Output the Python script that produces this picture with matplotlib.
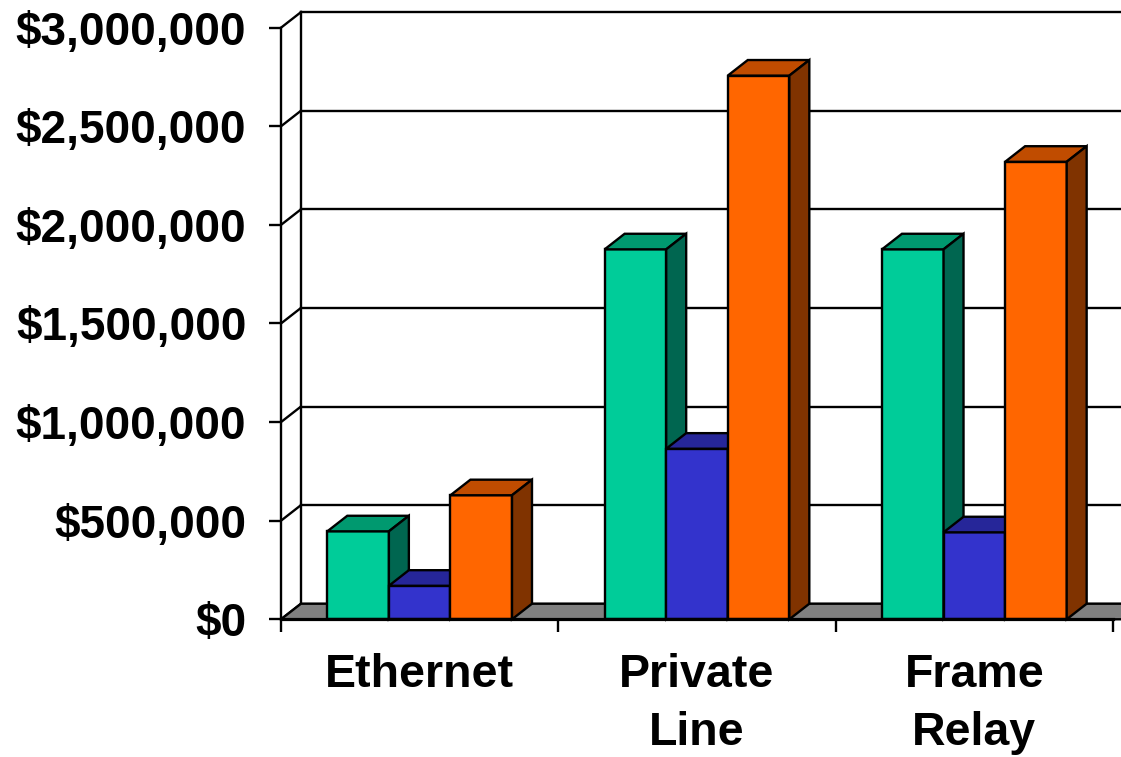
import matplotlib.pyplot as plt
from matplotlib.patches import Polygon

plt.rcParams['font.family'] = ['Liberation Sans', 'DejaVu Sans']

# data
categories = ["Ethernet", "Private\nLine", "Frame\nRelay"]
series_a = [446000, 1876000, 1876000]   # green
series_b = [170000, 865000, 441000]     # blue
series_c = [629000, 2757000, 2320000]   # orange
y_ticks = [0, 500000, 1000000, 1500000, 2000000, 2500000, 3000000]

# colours: front, top, side
colors = [
    ("#00CC99", "#00996F", "#006650"),
    ("#3333CC", "#262699", "#1A1A66"),
    ("#FF6600", "#C04C00", "#803300"),
]

DX = 0.072      # depth offset in category units
DY = 79000      # depth offset in value units
BAR_W = 0.222
GROUP_OFF = 0.167
LW = 1.7

fig = plt.figure(figsize=(11.21, 7.57), dpi=100)
ax = fig.add_axes([0.25067, 0.18191, 0.74220, 0.78151])
ax.set_xlim(0, 3)
ax.set_ylim(0, 3000000)
for s in ax.spines.values():
    s.set_visible(False)

# back wall and side wall grid
for y in y_ticks:
    ax.plot([DX, 3.5], [y + DY, y + DY], color="black", lw=LW, clip_on=False, zorder=1)
    ax.plot([0, DX], [y, y + DY], color="black", lw=LW, clip_on=False, zorder=1)
ax.plot([DX, DX], [DY, 3000000 + DY], color="black", lw=LW, clip_on=False, zorder=1)
ax.plot([0, 0], [0, 3000000], color="black", lw=LW, clip_on=False, zorder=4)

# floor
ax.add_patch(Polygon([(0, 0), (3.5, 0), (3.5 + DX, DY), (DX, DY)], closed=True,
                     facecolor="#808080", edgecolor="black", lw=LW,
                     clip_on=False, zorder=2))
ax.plot([0, 3], [0, 0], color="black", lw=LW + 0.6, clip_on=False, zorder=4)


def bar3d(x0, h, cols, z):
    x1 = x0 + BAR_W
    front = Polygon([(x0, 0), (x1, 0), (x1, h), (x0, h)], closed=True)
    top = Polygon([(x0, h), (x1, h), (x1 + DX, h + DY), (x0 + DX, h + DY)], closed=True)
    side = Polygon([(x1, 0), (x1 + DX, DY), (x1 + DX, h + DY), (x1, h)], closed=True)
    for p, c in zip([front, top, side], cols):
        p.set_facecolor(c)
        p.set_edgecolor("black")
        p.set_linewidth(LW)
        p.set_clip_on(False)
        p.set_zorder(z)
        p.set_joinstyle("miter")
        ax.add_patch(p)


z = 3
for i in range(len(categories)):
    for j, vals in enumerate([series_a, series_b, series_c]):
        bar3d(i + GROUP_OFF + j * BAR_W, vals[i], colors[j], z)
        z += 0.01

# ticks
ax.set_yticks(y_ticks)
ax.set_yticklabels(["${:,}".format(v) for v in y_ticks], fontsize=33, fontweight="bold")
ax.tick_params(axis="y", direction="out", length=9, width=LW, pad=16)
ax.set_xticks([0.5, 1.5, 2.5])
ax.set_xticklabels(categories, fontsize=33.5, fontweight="bold", linespacing=1.42)
ax.tick_params(axis="x", which="major", length=0, pad=24)
ax.set_xticks([0, 1, 2, 3], minor=True)
ax.tick_params(axis="x", which="minor", direction="out", length=9, width=LW)

fig.savefig("out.png", dpi=100)
